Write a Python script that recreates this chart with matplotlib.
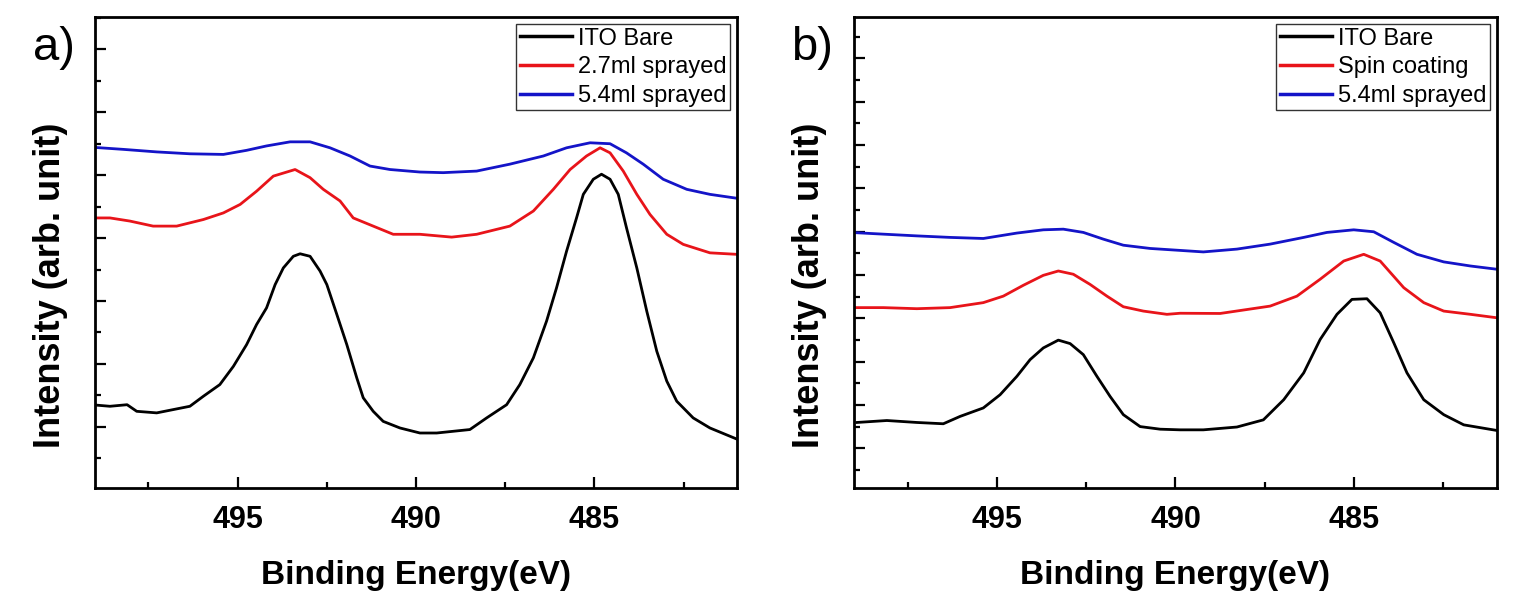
import matplotlib
matplotlib.use('Agg')
import matplotlib.pyplot as plt
from matplotlib.ticker import MultipleLocator, NullFormatter

plt.rcParams['font.family'] = ['Liberation Sans', 'DejaVu Sans']

# ---- panel a) data (binding energy in eV, intensity in arb. units) ----
e_a_bare = [499.1, 498.58, 498.1, 497.83, 497.27, 496.34, 495.96, 495.5, 495.12, 494.75,
            494.47, 494.19, 493.95, 493.72, 493.44, 493.25, 492.97, 492.69, 492.5, 492.22,
            491.94, 491.66, 491.48, 491.2, 490.92, 490.45, 489.89, 489.42, 488.49, 488.02,
            487.46, 487.09, 486.71, 486.34, 486.06, 485.78, 485.5, 485.31, 485.03, 484.8,
            484.56, 484.33, 484.1, 483.81, 483.53, 483.25, 482.97, 482.69, 482.23, 481.76,
            480.97]
i_a_bare = [2.70, 2.65, 2.70, 2.49, 2.44, 2.65, 2.97, 3.34, 3.92, 4.61,
            5.25, 5.78, 6.52, 7.05, 7.42, 7.50, 7.42, 6.95, 6.52, 5.57,
            4.61, 3.55, 2.92, 2.49, 2.17, 1.96, 1.80, 1.80, 1.91, 2.28,
            2.70, 3.34, 4.19, 5.36, 6.42, 7.58, 8.64, 9.39, 9.87, 10.03,
            9.87, 9.39, 8.33, 7.05, 5.67, 4.40, 3.45, 2.81, 2.28, 1.96,
            1.59]

e_a_27 = [499.1, 498.58, 498.02, 497.37, 496.71, 495.96, 495.4, 494.93, 494.47, 494.0,
          493.39, 492.97, 492.6, 492.13, 491.76, 491.2, 490.64, 489.89, 489.0, 488.3,
          487.37, 486.71, 486.15, 485.68, 485.22, 484.84, 484.56, 484.19, 483.81, 483.44,
          482.97, 482.51, 481.76, 480.97]
i_a_27 = [8.64, 8.64, 8.54, 8.38, 8.38, 8.59, 8.80, 9.07, 9.49, 9.97,
          10.18, 9.92, 9.55, 9.18, 8.64, 8.38, 8.12, 8.12, 8.03, 8.12,
          8.38, 8.86, 9.55, 10.18, 10.61, 10.87, 10.71, 10.13, 9.39, 8.75,
          8.12, 7.80, 7.53, 7.48]

e_a_54 = [499.1, 498.2, 497.27, 496.34, 495.4, 494.75, 494.19, 493.53, 492.97, 492.41,
          491.85, 491.29, 490.73, 489.89, 489.24, 488.3, 487.37, 486.43, 485.78, 485.12,
          484.56, 484.1, 483.63, 483.07, 482.41, 481.76, 480.97]
i_a_54 = [10.89, 10.82, 10.74, 10.68, 10.66, 10.79, 10.93, 11.06, 11.06, 10.87,
          10.61, 10.29, 10.18, 10.10, 10.08, 10.13, 10.35, 10.61, 10.87, 11.03,
          11.00, 10.71, 10.35, 9.87, 9.55, 9.39, 9.26]

# ---- panel b) data ----
e_b_bare = [498.92, 498.08, 497.24, 496.5, 496.03, 495.38, 494.91, 494.44, 494.07, 493.7,
            493.28, 492.95, 492.58, 492.2, 491.83, 491.46, 490.99, 490.43, 489.87, 489.22,
            488.28, 487.54, 486.97, 486.41, 485.95, 485.48, 485.06, 484.64, 484.27, 483.89,
            483.52, 483.05, 482.49, 481.93, 481.0]
i_b_bare = [3.19, 3.28, 3.19, 3.13, 3.47, 3.86, 4.47, 5.32, 6.09, 6.63,
            6.99, 6.83, 6.32, 5.32, 4.39, 3.55, 3.00, 2.88, 2.85, 2.85,
            2.98, 3.31, 4.24, 5.48, 7.02, 8.18, 8.87, 8.90, 8.25, 6.87,
            5.48, 4.24, 3.55, 3.08, 2.82]

e_b_spin = [499.1, 498.18, 497.24, 496.31, 495.38, 494.82, 494.26, 493.7, 493.28, 492.86,
            492.39, 491.92, 491.46, 490.9, 490.24, 489.87, 488.75, 487.35, 486.6, 485.95,
            485.29, 484.73, 484.27, 483.61, 483.05, 482.49, 481.74, 481.0]
i_b_spin = [8.49, 8.49, 8.44, 8.49, 8.72, 9.02, 9.52, 9.98, 10.18, 10.03,
            9.56, 9.02, 8.53, 8.33, 8.18, 8.23, 8.22, 8.56, 9.02, 9.80,
            10.64, 10.95, 10.64, 9.41, 8.72, 8.33, 8.18, 8.02]

e_b_54 = [499.1, 498.18, 497.24, 496.31, 495.38, 494.44, 493.7, 493.14, 492.58, 492.02,
          491.46, 490.71, 489.87, 489.22, 488.28, 487.35, 486.41, 485.76, 485.01, 484.45,
          483.89, 483.24, 482.49, 481.74, 481.0]
i_b_54 = [11.96, 11.88, 11.80, 11.73, 11.68, 11.93, 12.08, 12.11, 11.96, 11.65,
          11.37, 11.22, 11.13, 11.06, 11.19, 11.42, 11.73, 11.96, 12.08, 11.99,
          11.50, 10.95, 10.60, 10.41, 10.26]

fig = plt.figure(figsize=(15.15, 5.97), dpi=100)
ax_a = fig.add_axes([0.0627, 0.182, 0.4238, 0.7895])
ax_b = fig.add_axes([0.5637, 0.182, 0.4244, 0.7895])

panels = [
    (ax_a, [(e_a_bare, i_a_bare, 'black', 'ITO Bare'),
            (e_a_27, i_a_27, '#e8141a', '2.7ml sprayed'),
            (e_a_54, i_a_54, '#1414c8', '5.4ml sprayed')], (0.04, 15.03), 'a)', 0.022),
    (ax_b, [(e_b_bare, i_b_bare, 'black', 'ITO Bare'),
            (e_b_spin, i_b_spin, '#e8141a', 'Spin coating'),
            (e_b_54, i_b_54, '#1414c8', '5.4ml sprayed')], (0.15, 21.9), 'b)', 0.522),
]

for ax, series, ylim, tag, tag_x in panels:
    for e, inten, col, lab in series:
        ax.plot(e, inten, color=col, lw=2.0, label=lab)
    ax.set_xlim(499, 481)
    ax.set_ylim(*ylim)
    ax.xaxis.set_major_locator(MultipleLocator(5))
    ax.xaxis.set_minor_locator(MultipleLocator(2.5))
    ax.yaxis.set_major_locator(MultipleLocator(2))
    ax.yaxis.set_minor_locator(MultipleLocator(1))
    ax.yaxis.set_major_formatter(NullFormatter())
    ax.tick_params(axis='both', which='both', direction='in', top=False, right=False)
    ax.tick_params(axis='both', which='major', length=8, width=1.6)
    ax.tick_params(axis='both', which='minor', length=4.5, width=1.6)
    ax.tick_params(axis='x', which='major', pad=12)
    for lbl in ax.get_xticklabels():
        lbl.set_fontsize(22)
        lbl.set_fontweight('bold')
    for sp in ax.spines.values():
        sp.set_linewidth(2)
    ax.set_xlabel('Binding Energy(eV)', fontsize=24, fontweight='bold', labelpad=18)
    ax.set_ylabel('Intensity (arb. unit)', fontsize=26, fontweight='bold')
    ax.yaxis.set_label_coords(-0.042, 0.43)
    leg = ax.legend(loc='upper right', fontsize=17, frameon=True, fancybox=False,
                    edgecolor='black', handlelength=2.2, handletextpad=0.25,
                    labelspacing=0.28, borderpad=0.15, borderaxespad=0.3)
    leg.get_frame().set_linewidth(1.0)
    for ln in leg.get_lines():
        ln.set_linewidth(2.5)
    fig.text(tag_x, 0.92, tag, fontsize=34, ha='left', va='center')

fig.savefig('out.png', dpi=100)
